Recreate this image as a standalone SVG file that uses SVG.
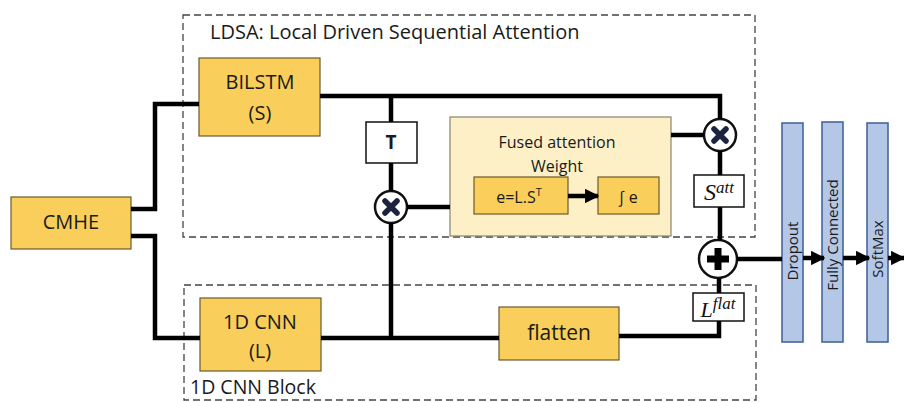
<svg xmlns="http://www.w3.org/2000/svg" width="904" height="402" viewBox="0 0 904 402">
<defs>
<style>
.t{font-family:"Open Sans","Noto Sans",sans-serif;fill:#1a1a1a}
.y{fill:#F9CE5B;stroke:#6b5a2a;stroke-width:1.2}
.w{fill:#fff;stroke:#111;stroke-width:1.5}
.b{fill:#B4C7E7;stroke:#3C5F97;stroke-width:1.5}
.dash{fill:none;stroke:#444;stroke-width:1.3;stroke-dasharray:7 4}
.ln{fill:none;stroke:#000;stroke-width:4.5;stroke-linejoin:miter}
.m{font-family:"Liberation Serif","DejaVu Serif",serif;font-style:italic;fill:#111}
</style>
<marker id="ah" viewBox="0 0 10 10" refX="9" refY="5" markerWidth="3.2" markerHeight="3.2" orient="auto" markerUnits="strokeWidth">
<path d="M0,0 L10,5 L0,10 z" fill="#000"/>
</marker>
<g id="xsym"><circle r="16" fill="#fff" stroke="#111" stroke-width="2.5"/><path d="M-6,-6 L6,6 M6,-6 L-6,6" stroke="#1c2340" stroke-width="5.5" stroke-linecap="round"/></g>
</defs>
<rect width="904" height="402" fill="#fff"/>

<g id="ldsa-block">
<rect class="dash" x="183" y="15" width="572" height="222"/>
<text class="t" x="210" y="39" font-size="20">LDSA: Local Driven Sequential Attention</text>
</g>
<g id="cnn-block">
<rect class="dash" x="184" y="285" width="572" height="115"/>
<text class="t" x="190" y="394" font-size="19.5">1D CNN Block</text>
</g>

<g id="cmhe">
<rect class="y" x="11" y="197" width="120" height="52"/>
<text class="t" x="71" y="229" font-size="20" text-anchor="middle">CMHE</text>
</g>
<g id="bilstm">
<rect class="y" x="199" y="58" width="121" height="78"/>
<text class="t" x="260" y="89" font-size="20" text-anchor="middle">BILSTM</text>
<text class="t" x="260" y="120" font-size="20" text-anchor="middle">(S)</text>
</g>
<g id="cnn">
<rect class="y" x="200" y="298" width="121" height="73"/>
<text class="t" x="260" y="329" font-size="20" text-anchor="middle">1D CNN</text>
<text class="t" x="260" y="358" font-size="20" text-anchor="middle">(L)</text>
</g>
<g id="transpose">
<rect class="w" x="366" y="122" width="51" height="41"/>
<text class="t" x="391" y="149" font-size="19" font-weight="bold" text-anchor="middle">T</text>
</g>
<g id="mult1"><use href="#xsym" x="391" y="207"/></g>
<g id="fused">
<rect x="450" y="117" width="221" height="119" fill="#FDEFC6" stroke="#8a8470" stroke-width="1.2"/>
<text class="t" x="557" y="148" font-size="16" text-anchor="middle">Fused attention</text>
<text class="t" x="557" y="172" font-size="16" text-anchor="middle">Weight</text>
</g>
<g id="energy">
<rect class="y" x="474" y="177" width="94" height="37"/>
<text class="t" x="519" y="203" font-size="16" text-anchor="middle">e=L.S<tspan font-size="11" dy="-7">T</tspan></text>
</g>
<g id="softint">
<rect class="y" x="598" y="177" width="61" height="37"/>
<text class="t" x="628" y="203" font-size="16" text-anchor="middle">∫ e</text>
</g>
<g id="mult2"><use href="#xsym" x="720" y="135"/></g>
<g id="satt">
<rect class="w" x="694" y="175" width="50" height="32"/>
<text class="m" x="719" y="200" font-size="24" text-anchor="middle">S<tspan font-size="17" dy="-7">att</tspan></text>
</g>
<g id="add">
<circle cx="718" cy="259" r="19" fill="#fff" stroke="#111" stroke-width="2.5"/>
<path d="M718,248 V270 M707,259 H729" stroke="#000" stroke-width="7"/>
</g>
<g id="lflat">
<rect class="w" x="693" y="293" width="51" height="28"/>
<text class="m" x="718" y="317" font-size="22" text-anchor="middle">L<tspan font-size="17" dy="-8">flat</tspan></text>
</g>
<g id="flatten">
<rect class="y" x="499" y="307" width="120" height="53"/>
<text class="t" x="559" y="340" font-size="21" text-anchor="middle">flatten</text>
</g>
<g id="dropout">
<rect class="b" x="782" y="123" width="21" height="219"/>
<text class="t" x="0" y="0" font-size="15" text-anchor="middle" transform="translate(798,251) rotate(-90)">Dropout</text>
</g>
<g id="fc">
<rect class="b" x="822" y="122" width="21" height="220"/>
<text class="t" x="0" y="0" font-size="15" text-anchor="middle" transform="translate(838,235) rotate(-90)">Fully Connected</text>
</g>
<g id="softmax">
<rect class="b" x="867" y="123" width="21" height="219"/>
<text class="t" x="0" y="0" font-size="15" text-anchor="middle" transform="translate(883,249) rotate(-90)">SoftMax</text>
</g>

<g id="connectors">
<path class="ln" d="M131,209 H155 V104 H199"/>
<path class="ln" d="M131,236 H155 V338 H200"/>
<path class="ln" d="M320,96 H720 V119"/>
<path class="ln" d="M391,96 V122"/>
<path class="ln" d="M391,163 V191"/>
<path class="ln" d="M391,223 V338"/>
<path class="ln" d="M407,207 H450"/>
<path class="ln" d="M671,135 H704"/>
<path class="ln" d="M720,151 V175"/>
<path class="ln" d="M720,207 V240"/>
<path class="ln" d="M719,278 V293"/>
<path class="ln" d="M719,321 V336 H619"/>
<path class="ln" d="M321,338 H499"/>
<path class="ln" d="M737,259 H782"/>
<path class="ln" d="M568,196 H598" marker-end="url(#ah)"/>
<path class="ln" d="M803,258 H824" marker-end="url(#ah)"/>
<path class="ln" d="M843,258 H869" marker-end="url(#ah)"/>
<path class="ln" d="M888,258 H904" marker-end="url(#ah)"/>
</g>
</svg>
